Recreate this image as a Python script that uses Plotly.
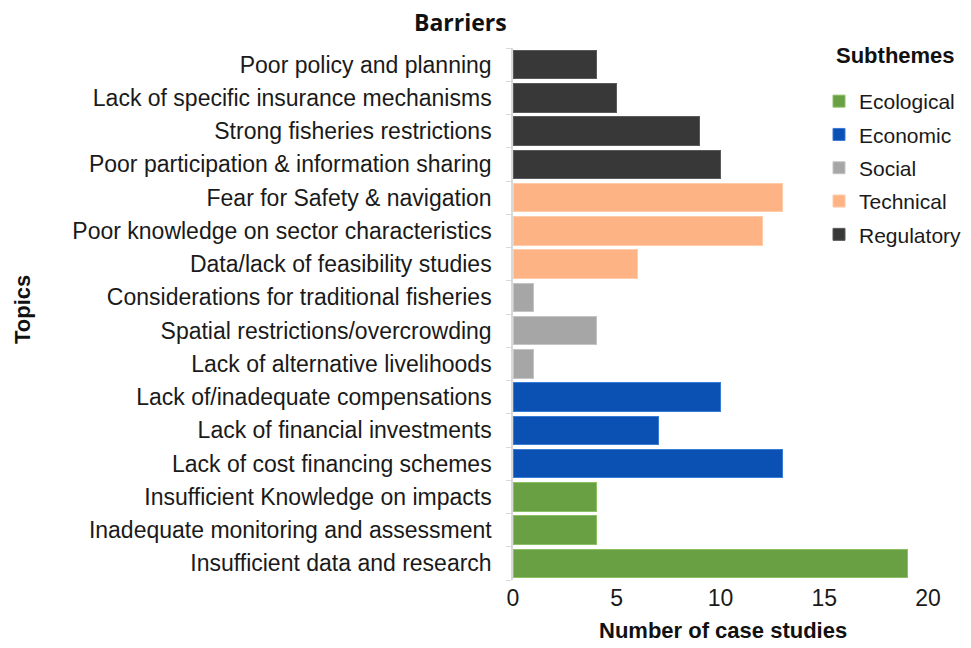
import plotly.graph_objects as go

# Data (bottom-to-top order as drawn)
topics = [
    "Insufficient data and research",
    "Inadequate monitoring and assessment",
    "Insufficient Knowledge on impacts",
    "Lack of cost financing schemes",
    "Lack of financial investments",
    "Lack of/inadequate compensations",
    "Lack of alternative livelihoods",
    "Spatial restrictions/overcrowding",
    "Considerations for traditional fisheries",
    "Data/lack of feasibility studies",
    "Poor knowledge on sector characteristics",
    "Fear for Safety & navigation",
    "Poor participation & information sharing",
    "Strong fisheries restrictions",
    "Lack of specific insurance mechanisms",
    "Poor policy and planning",
]
counts = [19, 4, 4, 13, 7, 10, 1, 4, 1, 6, 12, 13, 10, 9, 5, 4]
subtheme_of = ["Ecological"] * 3 + ["Economic"] * 3 + ["Social"] * 3 + ["Technical"] * 3 + ["Regulatory"] * 4

subthemes = ["Ecological", "Economic", "Social", "Technical", "Regulatory"]
colors = ["#69A043", "#0B51B4", "#A6A6A6", "#FDB383", "#383838"]
edge_colors = ["#8CC064", "#3A7BD6", "#C4C4C4", "#FFCBA8", "#5A5A5A"]

x_ticks = [0, 5, 10, 15, 20]

FONT = "Arial, 'Liberation Sans', sans-serif"

W, H = 963, 632  # page adds an 8px body margin

fig = go.Figure()
for st, col, ec in zip(subthemes, colors, edge_colors):
    ys = [t for t, s in zip(topics, subtheme_of) if s == st]
    xs = [c for c, s in zip(counts, subtheme_of) if s == st]
    fig.add_trace(go.Bar(
        x=xs, y=ys, orientation="h", name=st,
        marker=dict(color=col, line=dict(color=ec, width=1)),
        legendgroup=st,
    ))

fig.update_layout(
    width=W, height=H,
    margin=dict(l=505, r=W - 920, t=40, b=H - 572, autoexpand=False),
    paper_bgcolor="white", plot_bgcolor="white",
    barmode="stack", bargap=0.15,
    font=dict(family=FONT, size=23, color="#1a1a1a"),
    showlegend=True,
    legend=dict(
        xref="container", yref="container",
        x=811 / W, y=1 - 73 / H, xanchor="left", yanchor="top",
        font=dict(size=21, color="#1a1a1a"),
        tracegroupgap=3, itemwidth=30,
        bgcolor="rgba(0,0,0,0)",
    ),
    xaxis=dict(
        range=[0, 20], tickvals=x_ticks, showgrid=False, zeroline=False,
        showline=False, ticks="", tickfont=dict(size=23), automargin=False,
        ticklabelstandoff=2,
    ),
    yaxis=dict(
        categoryorder="array", categoryarray=topics, automargin=False,
        showline=True, linecolor="#D9D9D9", linewidth=1.5,
        ticks="outside", tickson="boundaries", ticklen=5, tickcolor="#D9D9D9",
        showgrid=False, zeroline=False, tickfont=dict(size=23),
        ticklabelstandoff=15,
    ),
    annotations=[
        dict(text="<b>Barriers</b>", xref="paper", yref="paper",
             x=(460 - 513) / 415, y=(48 - 22) / 532 + 1, xanchor="center", yanchor="middle",
             showarrow=False, font=dict(family="'Open Sans', sans-serif", size=23, color="#111")),
        dict(text="<b>Subthemes</b>", xref="paper", yref="paper",
             x=(895 - 513) / 415, y=1 - (55 - 48) / 532, xanchor="center", yanchor="middle",
             showarrow=False, font=dict(family=FONT, size=22, color="#111")),
        dict(text="<b>Topics</b>", xref="paper", yref="paper", textangle=-90,
             x=(23 - 513) / 415, y=0.5 - (310 - 314) / 532, xanchor="center", yanchor="middle",
             showarrow=False, font=dict(family=FONT, size=22, color="#111")),
        dict(text="<b>Number of case studies</b>", xref="paper", yref="paper",
             x=(723 - 513) / 415, y=-(630 - 580) / 532, xanchor="center", yanchor="middle",
             showarrow=False, font=dict(family=FONT, size=22, color="#111")),
    ],
)

fig.write_html("out.html")
